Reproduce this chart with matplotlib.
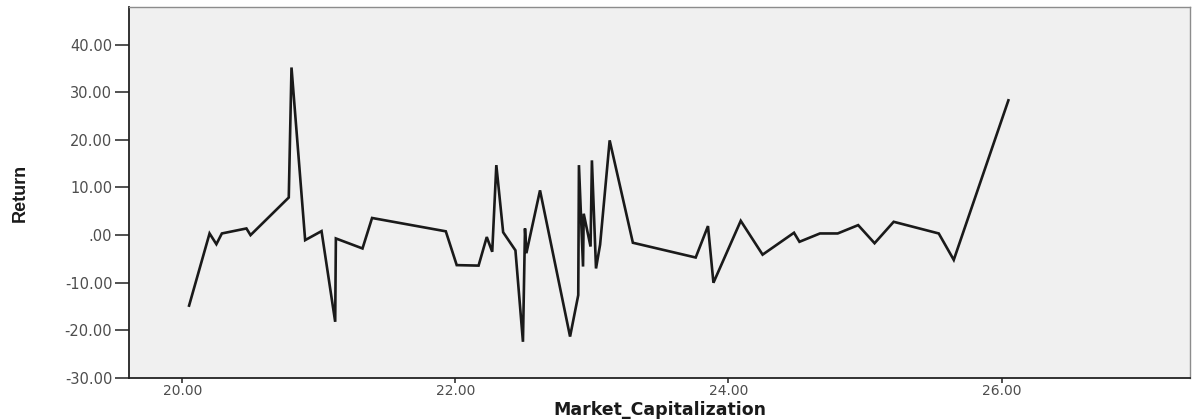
import matplotlib
matplotlib.use("Agg")
import matplotlib.pyplot as plt

# Data
market_cap = [20.05, 20.20, 20.25, 20.29, 20.47, 20.50, 20.78, 20.80, 20.90, 21.02,
              21.12, 21.125, 21.32, 21.39, 21.93, 22.01, 22.17, 22.23, 22.27, 22.30,
              22.35, 22.44, 22.495, 22.51, 22.52, 22.62, 22.84, 22.90, 22.905, 22.935,
              22.94, 22.99, 23.00, 23.03, 23.06, 23.13, 23.30, 23.76, 23.85, 23.89,
              24.09, 24.25, 24.48, 24.52, 24.67, 24.80, 24.95, 25.07, 25.21, 25.54,
              25.65, 26.05]
returns = [-14.8, 0.35, -1.9, 0.35, 1.4, 0.0, 7.9, 35.2, -1.05, 0.84,
           -18.2, -0.7, -2.8, 3.6, 0.8, -6.3, -6.4, -0.4, -3.5, 14.7,
           0.6, -3.2, -22.4, 1.4, -3.8, 9.4, -21.3, -12.6, 14.7, -6.6,
           4.5, -2.4, 15.7, -7.0, -2.0, 19.9, -1.6, -4.7, 1.9, -10.0,
           3.0, -4.1, 0.5, -1.4, 0.35, 0.35, 2.1, -1.7, 2.8, 0.35,
           -5.2, 28.3]

x_ticks = [20, 22, 24, 26]
x_tick_labels = ["20.00", "22.00", "24.00", "26.00"]
y_ticks = [-30, -20, -10, 0, 10, 20, 30, 40]
y_tick_labels = ["-30.00", "-20.00", "-10.00", ".00", "10.00", "20.00", "30.00", "40.00"]
x_label = "Market_Capitalization"
y_label = "Return"

fig = plt.figure(figsize=(11.92, 4.20), dpi=100)
fig.patch.set_facecolor("white")
ax = fig.add_axes([129 / 1192, 42 / 420, (1190 - 129) / 1192, (378 - 7) / 420])
ax.set_facecolor("#f0f0f0")

ax.plot(market_cap, returns, color="#1a1a1a", lw=1.9, solid_joinstyle="miter")

ax.set_xlim(19.61, 27.38)
ax.set_ylim(-30, 47.9)

ax.set_xticks(x_ticks)
ax.set_xticklabels(x_tick_labels)
ax.set_yticks(y_ticks)
ax.set_yticklabels(y_tick_labels)

for lab in ax.get_yticklabels():
    lab.set_fontfamily("DejaVu Sans")
    lab.set_fontsize(10.5)
    lab.set_color("#4d4d4d")
for lab in ax.get_xticklabels():
    lab.set_fontfamily("DejaVu Sans")
    lab.set_fontsize(10)
    lab.set_color("#4d4d4d")

ax.tick_params(axis="y", length=10, width=1.2, pad=2, color="#333333", direction="out")
ax.tick_params(axis="x", length=3.6, width=1.2, pad=1, color="#333333", direction="out")

for side in ["left", "bottom"]:
    ax.spines[side].set_color("#222222")
    ax.spines[side].set_linewidth(1.3)
for side in ["top", "right"]:
    ax.spines[side].set_color("#8c8c8c")
    ax.spines[side].set_linewidth(1.0)

ax.set_xlabel(x_label, fontsize=12.5, fontweight="bold", family=["DejaVu Sans"],
              color="#1a1a1a", va="top")
ax.xaxis.set_label_coords(0.5, -(401 - 378) / 371)
ax.set_ylabel(y_label, fontsize=13, fontweight="bold",
              family=["Liberation Sans Narrow", "Liberation Sans", "DejaVu Sans"],
              color="#1a1a1a", va="center")
ax.yaxis.set_label_coords(-(129 - 20) / 1061, 0.5)

fig.savefig("out.png", dpi=100, facecolor="white")
